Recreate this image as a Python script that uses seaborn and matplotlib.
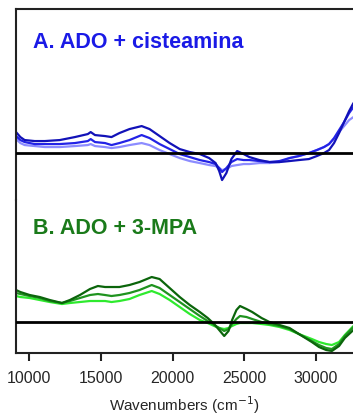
import pandas as pd
import matplotlib
matplotlib.use("Agg")
import matplotlib.pyplot as plt
import seaborn as sns

# panel A: ADO + cisteamina (offset from baseline, arbitrary units)
wn_a = [9100, 9400, 9700, 10400, 11100, 12150, 13200, 14100, 14300, 14600, 15300,
        15750, 16300, 17000, 17850, 18400, 19100, 19800, 20500, 21200, 21900, 22550,
        23000, 23250, 23450, 23750, 24100, 24500, 24950, 25350, 26050, 26750, 27450,
        28150, 28800, 29500, 30050, 30550, 30900, 31250, 31600, 31950, 32300, 32600]
a_dark = [21, 16, 13, 12, 12, 13, 16, 19, 21, 18, 17, 16, 20, 24, 27, 24, 17, 10, 4, 1, -1, -5,
          -10, -18, -27, -20, -6, 2, -1, -4, -7, -9, -9, -8, -7, -6, -3, 0, 3, 10, 20, 31, 42, 50]
a_mid = [17, 13, 11, 9, 9, 9, 10, 12, 14, 11, 10, 8, 10, 13, 18, 15, 9, 4, -1, -4, -7, -9,
         -11, -15, -19, -15, -9, -6, -7, -7, -8, -9, -8, -5, -3, 0, 3, 6, 9, 15, 23, 31, 40, 46]
a_light = [14, 10, 8, 7, 6, 6, 7, 8, 9, 7, 6, 5, 6, 8, 10, 8, 3, -1, -5, -8, -10, -12,
           -13, -15, -17, -16, -13, -12, -11, -11, -10, -10, -9, -5, -3, 0, 3, 6, 9, 14, 21, 27, 33, 36]

# panel B: ADO + 3-MPA
wn_b = [9100, 9400, 10050, 10750, 11450, 12300, 12850, 13550, 14250, 14800, 15300,
        15750, 16300, 17000, 17700, 18550, 19100, 19800, 20500, 21200, 21900, 22450,
        22900, 23250, 23600, 23900, 24150, 24450, 24700, 25150, 25550, 26200, 26750,
        27450, 28150, 28800, 29700, 30200, 30700, 31100, 31600, 32000, 32600]
b_dark = [32, 30, 27, 25, 22, 19, 22, 27, 33, 36, 35, 35, 35, 37, 40, 45, 43, 34, 25, 17, 10, 4,
          -2, -8, -14, -9, 2, 12, 16, 13, 10, 4, 0, -3, -6, -12, -20, -25, -28, -29, -24, -16, -8]
b_mid = [29, 28, 26, 24, 21, 19, 21, 24, 27, 28, 27, 26, 27, 29, 32, 37, 34, 27, 20, 13, 6, 1,
         -3, -6, -9, -7, -2, 3, 6, 5, 3, 0, -2, -4, -7, -12, -19, -23, -26, -27, -22, -14, -5]
b_light = [26, 25, 24, 22, 20, 18, 19, 20, 21, 21, 21, 20, 21, 23, 27, 31, 28, 22, 15, 8, 2, -1,
           -4, -6, -7, -6, -4, -2, -1, -1, -1, -2, -3, -5, -8, -12, -17, -20, -22, -23, -20, -13, -4]

xticks = [10000, 15000, 20000, 25000, 30000]

sns.set_style("white")
plt.rcParams['font.family'] = ['Liberation Sans', 'DejaVu Sans']

def tidy(wn, series):
    rows = []
    for name, vals in series.items():
        for w, v in zip(wn, vals):
            rows.append({'wn': w, 'abs': v, 'serie': name})
    return pd.DataFrame(rows)

df_a = tidy(wn_a, {'d': a_dark, 'm': a_mid, 'l': a_light})
df_b = tidy(wn_b, {'d': b_dark, 'm': b_mid, 'l': b_light})

fig = plt.figure(figsize=(3.53, 4.15), dpi=100)
ax_a = fig.add_axes([0.0453, 0.518, 0.9547, 0.460])
ax_b = fig.add_axes([0.0453, 0.1494, 0.9547, 0.3686])

pal_a = {'d': '#1212b8', 'm': '#2323e6', 'l': '#8c8cff'}
pal_b = {'d': '#0b650b', 'm': '#1f931f', 'l': '#2eea2e'}

sns.lineplot(data=df_a, x='wn', y='abs', hue='serie', palette=pal_a, hue_order=['l', 'm', 'd'],
             linewidth=1.6, legend=False, ax=ax_a)
sns.lineplot(data=df_b, x='wn', y='abs', hue='serie', palette=pal_b, hue_order=['l', 'm', 'd'],
             linewidth=1.6, legend=False, ax=ax_b)

xmin, xmax = 9097, 32570
for ax in (ax_a, ax_b):
    ax.set_xlim(xmin, xmax)
    ax.axhline(0, color='black', linewidth=2, zorder=5)
    ax.set_yticks([])
    ax.set_ylabel('')
    ax.spines['right'].set_visible(False)
    for s in ax.spines.values():
        s.set_color('#222222')
        s.set_linewidth(1.5)

ax_a.set_ylim(-47, 144)
ax_b.set_ylim(-31, 122)
ax_a.spines['bottom'].set_visible(False)
ax_b.spines['top'].set_visible(False)
ax_a.set_xticks([])
ax_a.set_xlabel('')

ax_b.set_xticks(xticks)
ax_b.set_xticklabels([str(t) for t in xticks], fontsize=11.5)
ax_b.tick_params(axis='x', direction='out', length=6, width=1.5, color='#222222', pad=7, bottom=True)
ax_b.set_xlabel('Wavenumbers (cm$^{-1}$)', fontsize=11, labelpad=6)

ax_a.text(10280, 111, 'A. ADO + cisteamina', color='#1a1ae6', fontsize=15.5,
          fontweight='bold', va='center')
ax_b.text(10280, 94, 'B. ADO + 3-MPA', color='#1a7a1a', fontsize=15.5,
          fontweight='bold', va='center')

fig.savefig('out.png', dpi=100)
